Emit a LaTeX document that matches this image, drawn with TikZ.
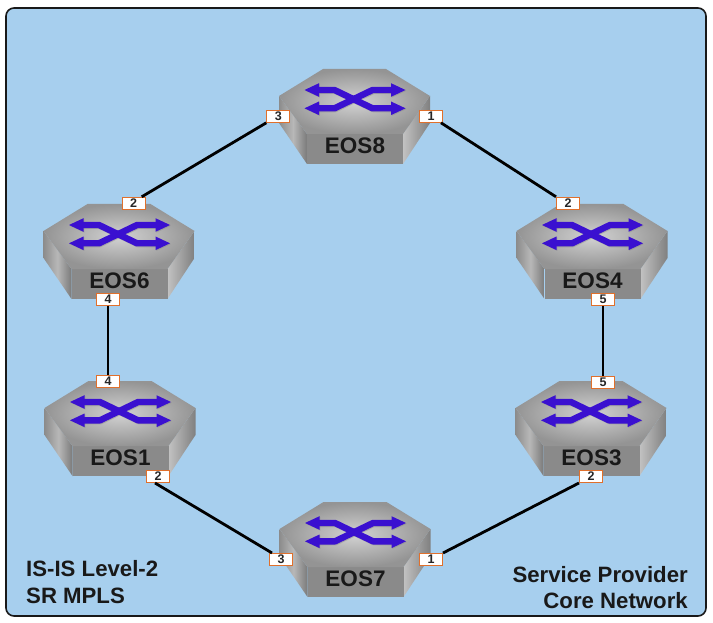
\documentclass[tikz,border=0pt]{standalone}
\usepackage{fontspec}
\setmainfont{Liberation Sans}
\definecolor{bgblue}{HTML}{A7CFEE}
\definecolor{portedge}{HTML}{E0702C}
\definecolor{arrowblue}{HTML}{3A10D0}
\tikzset{
  panel/.style={draw=black!90,line width=1.6pt,rounded corners=8pt,fill=bgblue},
  portbox/.style={draw=portedge,line width=1pt,fill=white,minimum width=23pt,minimum height=12pt,inner sep=0pt,font=\fontsize{12.5}{13}\selectfont\bfseries,text=black!85},
  link/.style={draw=black,line width=2.8pt},
  swlabel/.style={font=\fontsize{22.5}{24}\selectfont\bfseries,text=black!90,inner sep=0pt},
  note/.style={font=\fontsize{22.2}{26.5}\selectfont\bfseries,text=black!90,inner sep=0pt},
  topface/.style={inner color=gray!35!white,outer color=black!42!white},
  arrowline/.style={line width=6.4pt,draw=arrowblue,line join=round},
  arrowshadow/.style={line width=6.4pt,draw=black!45,line join=round,opacity=.5}
}
% \switchbox{centre x}{top y}{name}{label}
\newcommand{\xarrows}[2]{%
  \draw[#1] (-36,21) -- (-20,21) -- (18,39.3) -- (37,39.3);
  \draw[#1] (-36,39.3) -- (-20,39.3) -- (18,21) -- (37,21);
  \fill[#2] (-50,21) -- (-35.5,14.2) -- (-35.5,27.8) -- cycle;
  \fill[#2] (-50,39.3) -- (-35.5,32.5) -- (-35.5,46.1) -- cycle;
  \fill[#2] (51,21) -- (36.5,14.2) -- (36.5,27.8) -- cycle;
  \fill[#2] (51,39.3) -- (36.5,32.5) -- (36.5,46.1) -- cycle;
}
\newcommand{\switchbox}[4]{%
  \begin{scope}[shift={(#1,#2)}]
    \shade[left color=black!45!white,right color=black!52!white,middle color=black!28!white]
      (-75.5,27) -- (-47.5,65) -- (-47.5,95) -- (-75.5,54) -- cycle;
    \shade[left color=black!24!white,right color=black!50!white]
      (48.5,65) -- (75.5,27) -- (75.5,54) -- (48.5,95) -- cycle;
    \fill[black!46!white] (-47.5,65) rectangle (48.5,95);
    \shade[topface] (-31.5,0) -- (31.5,0) -- (75.5,27) -- (48.5,65) -- (-47.5,65) -- (-75.5,27) -- cycle;
    \begin{scope}[shift={(.8,.8)}]\xarrows{arrowshadow}{black!45,opacity=.5}\end{scope}
    \xarrows{arrowline}{arrowblue}
    \node[swlabel] (#3) at (0.5,76.5) {#4};
  \end{scope}
}
\begin{document}
\begin{tikzpicture}[x=1pt,y=-1pt]
  \useasboundingbox (0,0) rectangle (713,623);
  \path[panel] (6,8) rectangle (706,616);

  \switchbox{354.5}{69}{eos8}{EOS8}
  \switchbox{119}{204}{eos6}{EOS6}
  \switchbox{592}{204}{eos4}{EOS4}
  \switchbox{120}{381}{eos1}{EOS1}
  \switchbox{591}{381}{eos3}{EOS3}
  \switchbox{355}{502}{eos7}{EOS7}

  \node[portbox] (e8p3) at (278.3,116.3) {3};
  \node[portbox] (e8p1) at (431,116.3) {1};
  \node[portbox] (e6p2) at (133.7,203.3) {2};
  \node[portbox] (e6p4) at (108,299) {4};
  \node[portbox] (e4p2) at (568,203.3) {2};
  \node[portbox] (e4p5) at (603,299) {5};
  \node[portbox] (e1p4) at (108,381) {4};
  \node[portbox] (e1p2) at (158,476.5) {2};
  \node[portbox] (e3p5) at (603,382) {5};
  \node[portbox] (e3p2) at (591,476.5) {2};
  \node[portbox] (e7p3) at (281,559.5) {3};
  \node[portbox] (e7p1) at (431,559.5) {1};

  \draw[link] (e8p3.south west) -- ([xshift=-4pt]e6p2.north east);
  \draw[link] ([xshift=-2pt]e8p1.south east) -- (e4p2.north west);
  \draw[link] (e6p4) -- (e1p4);
  \draw[link] (e4p5) -- (e3p5);
  \draw[link] ([xshift=-3pt]e1p2.south) -- ([xshift=-9pt]e7p3.north);
  \draw[link] (e3p2.south west) -- (e7p1.north east);

  \node[note,anchor=west,align=left] (areaname) at (26,582) {IS-IS Level-2\\SR MPLS};
  \node[note,anchor=east,align=right] (corename) at (688,587.5) {Service Provider\\Core Network};
\end{tikzpicture}
\end{document}
